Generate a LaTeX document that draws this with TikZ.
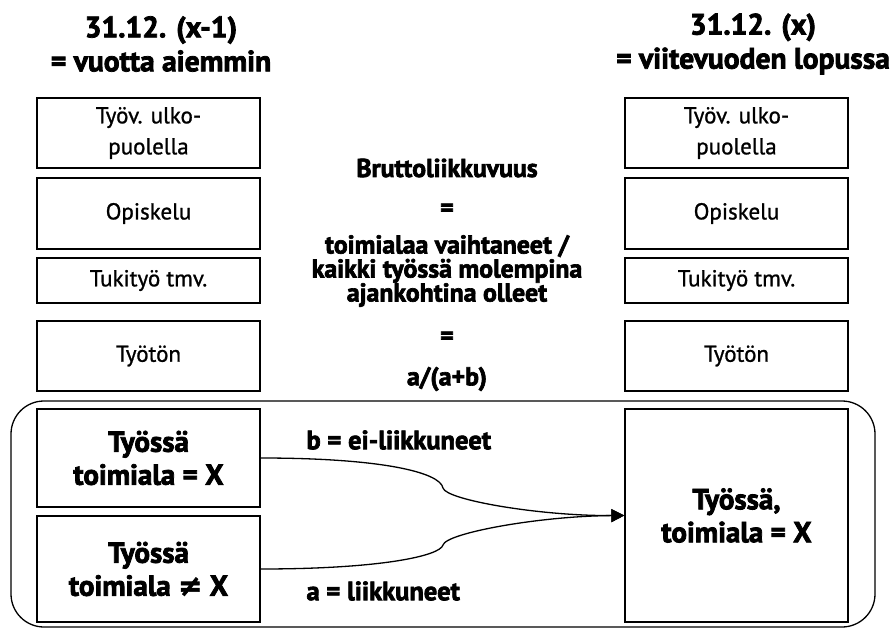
\documentclass[tikz,border=0pt]{standalone}
\usepackage{fontspec}
\setmainfont{PT Sans}[UprightFeatures={FakeBold=1}, BoldFeatures={FakeBold=2.6}]
\newfontfamily\symfont{DejaVu Sans}[BoldFeatures={FakeBold=2}]
\usetikzlibrary{arrows.meta}
\tikzset{
    statebox/.style={draw, line width=1.3pt, minimum width=223pt, inner sep=0pt, align=center, font=\fontsize{23}{31}\selectfont},
    workbox/.style={statebox, font=\fontsize{29}{33}\selectfont\bfseries},
    heading/.style={align=center, font=\fontsize{29.5}{34}\selectfont\bfseries},
    formula/.style={align=center, font=\fontsize{25.8}{24}\selectfont\bfseries},
    flowlabel/.style={anchor=west, font=\fontsize{26.5}{28}\selectfont\bfseries},
    flow/.style={line width=1.3pt, -{Triangle[length=13pt, width=13pt]}}
}

\begin{document}
\begin{tikzpicture}[x=1pt, y=-1pt]
    \useasboundingbox (0, 0) rectangle (895, 637);
    %headings
    \node[heading] (ltitle) at (161, 44) {31.12. (x-1)\\= vuotta aiemmin};
    \node[heading] (rtitle) at (753, 44) {31.12. (x)\\= viitevuoden lopussa};
    %the boxes, year before
    \node[statebox, minimum height=70pt] (lout) at (148.5, 133) {Työv. ulko-\\puolella};
    \node[statebox, minimum height=71pt] (lstudy) at (148.5, 213.5) {Opiskelu};
    \node[statebox, minimum height=45pt] (lsupp) at (148.5, 280.5) {Tukityö tmv.};
    \node[statebox, minimum height=70pt] (lunemp) at (148.5, 356) {Työtön};
    %the boxes, end of year
    \node[statebox, minimum height=70pt] (rout) at (736.5, 133) {Työv. ulko-\\puolella};
    \node[statebox, minimum height=71pt] (rstudy) at (736.5, 213.5) {Opiskelu};
    \node[statebox, minimum height=45pt] (rsupp) at (736.5, 280.5) {Tukityö tmv.};
    \node[statebox, minimum height=70pt] (runemp) at (736.5, 356) {Työtön};
    %the formula
    \node[formula] (fname) at (447, 168) {Bruttoliikkuvuus};
    \node[formula] (feq1) at (447, 210) {=};
    \node[formula] (fdef) at (447, 271) {toimialaa vaihtaneet /\\kaikki työssä molempina\\ajankohtina olleet};
    \node[formula] (feq2) at (447, 338) {=};
    \node[formula] (fratio) at (447, 379) {a/(a+b)};
    %the employed
    \draw[line width=1.3pt, rounded corners=33pt] (11, 401) rectangle (875, 627);
    \node[workbox, minimum height=98pt] (lsame) at (148.5, 458) {Työssä\\toimiala = X};
    \node[workbox, minimum height=106pt] (ldiff) at (148.5, 569) {Työssä\\toimiala {\symfont ≠} X};
    \node[workbox, minimum height=213pt] (rwork) at (736.5, 515.5) {Työssä,\\toimiala = X};
    %the flows
    \coordinate (bstay) at (443, 488);
    \coordinate (bmove) at (443, 545);
    \draw[flow] (lsame.east) .. controls (380, 458) and (440, 472) .. (bstay)
        .. controls (446, 500) and (540, 516) .. (rwork.west);
    \draw[flow] (ldiff.east) .. controls (380, 569) and (440, 556) .. (bmove)
        .. controls (446, 533) and (540, 516) .. (rwork.west);
    \node[flowlabel] (lblstay) at (303, 440) {b = ei-liikkuneet};
    \node[flowlabel] (lblmove) at (303, 591) {a = liikkuneet};
\end{tikzpicture}
\end{document}
